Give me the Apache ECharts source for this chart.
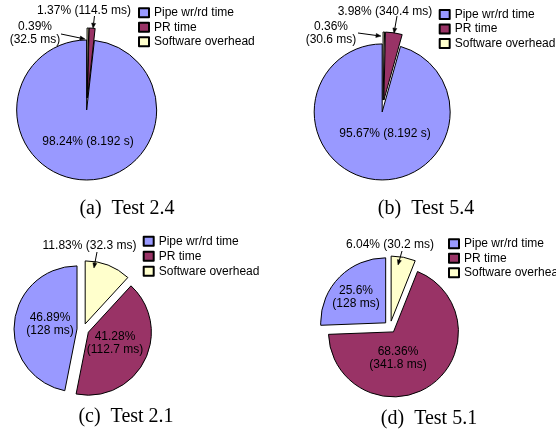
<!DOCTYPE html>
<html><head><meta charset="utf-8">
<script src="https://cdn.jsdelivr.net/npm/echarts@6/dist/echarts.min.js"></script>
<style>html,body{margin:0;padding:0;background:#fff}#c{width:556px;height:443px}</style>
</head><body><div id="c"></div>
<script>
// ---- data ----
const categories = ['Pipe wr/rd time', 'PR time', 'Software overhead'];
const colors = ['#9999ff', '#993366', '#ffffcc'];
const test24 = [8192, 114.5, 32.5];   // ms
const test54 = [8192, 340.4, 30.6];   // ms
const test21 = [128, 112.7, 32.3];    // ms
const test51 = [128, 341.8, 30.2];    // ms
const captions = ['(a)  Test 2.4', '(b)  Test 5.4', '(c)  Test 2.1', '(d)  Test 5.1'];

// ---- layout (positions only) ----
const OFFSET = 6;
const panels = [
  { values: test24, center: [87, 104], radius: 70, legend: [138, 6.8, 2.5], caption: [127, 209],
    labels: [
      { xy: [88, 142], wrap: false },
      { xy: [84, 11], wrap: false, from: [94.5, 16], tipA: 4.6, tipR: 1.0 },
      { xy: [35, 33.5], wrap: true, from: [61, 34], tipA: -2.0, tipR: 0.843 }
    ] },
  { values: test54, center: [383, 106], radius: 68, legend: [438.7, 8.5, 2.5], caption: [426, 209],
    labels: [
      { xy: [385, 134], wrap: false },
      { xy: [385, 12], wrap: false, from: [397, 16], tipA: 8.6, tipR: 0.995 },
      { xy: [331, 33.5], wrap: true, from: [358, 33], tipA: -1.85, tipR: 0.94 }
    ] },
  { values: test21, center: [83, 329.5], radius: 63, legend: [142.7, 235.2, 3], caption: [126, 417],
    labels: [
      { xy: [50, 324], wrap: true },
      { xy: [115, 343], wrap: true },
      { xy: [89.5, 246], wrap: false, from: [97, 252], tipA: 8.9, tipR: 0.898 }
    ] },
  { values: test51, center: [390, 327], radius: 65, legend: [448, 237.8, 2.5], caption: [429, 419],
    labels: [
      { xy: [356, 297], wrap: true },
      { xy: [398, 358], wrap: true },
      { xy: [390, 245], wrap: false, from: [402, 251], tipA: 7.0, tipR: 0.87 }
    ] }
];

function fmtVal(v) { return v >= 1000 ? (v / 1000).toFixed(3) + ' s' : v + ' ms'; }
function pct(v, arr) { const s = arr.reduce((a, b) => a + b, 0); return +(v / s * 100).toFixed(2); }

const FONT = 'Liberation Sans';
const series = panels.map((p) => ({
  type: 'pie',
  center: p.center,
  radius: p.radius,
  startAngle: 90,
  clockwise: false,
  selectedMode: 'multiple',
  selectedOffset: OFFSET,
  avoidLabelOverlap: false,
  animation: false,
  emphasis: { disabled: true },
  label: { show: false },
  labelLine: { show: false },
  itemStyle: { borderColor: '#000', borderWidth: 1 },
  select: { itemStyle: { borderColor: '#000', borderWidth: 1 } },
  data: p.values.map((v, i) => ({
    value: v,
    name: categories[i],
    selected: true,
    itemStyle: { color: colors[i] }
  }))
}));

const legends = panels.map(p => ({
  orient: 'vertical',
  left: p.legend[0], top: p.legend[1], itemGap: p.legend[2],
  padding: 0, itemWidth: 10, itemHeight: 9, icon: 'rect',
  selectedMode: false,
  textStyle: { fontFamily: FONT, fontSize: 12, color: '#000' },
  data: categories
}));

const chart = echarts.init(document.getElementById('c'), null, { renderer: 'canvas' });
chart.setOption({
  animation: false,
  backgroundColor: '#fff',
  legend: legends,
  series: series
});

// slice origin (centre shifted by the selected offset) from the library's own pie layout
function sliceOrigin(si, j) {
  let lay = null;
  try { lay = chart.getModel().getSeriesByIndex(si).getData().getItemLayout(j); } catch (e) { lay = null; }
  if (lay && lay.cx != null) {
    const mid = (lay.startAngle + lay.endAngle) / 2;
    return { x: lay.cx + Math.cos(mid) * OFFSET, y: lay.cy + Math.sin(mid) * OFFSET, r: lay.r };
  }
  const p = panels[si], vals = p.values, s = vals.reduce((a, b) => a + b, 0);
  let acc = 0; for (let k = 0; k < j; k++) acc += vals[k];
  const a0 = -Math.PI / 2 - acc / s * 2 * Math.PI, a1 = a0 - vals[j] / s * 2 * Math.PI;
  const mid = (a0 + a1) / 2;
  return { x: p.center[0] + Math.cos(mid) * OFFSET, y: p.center[1] + Math.sin(mid) * OFFSET, r: p.radius };
}

const Z = 50;
const graphics = [];
captions.forEach((t, i) => graphics.push({
  type: 'text', x: panels[i].caption[0], y: panels[i].caption[1], silent: true, z: Z,
  style: { text: t, font: '20px "Liberation Serif"', fill: '#000', align: 'center', verticalAlign: 'middle' }
}));
panels.forEach((p, si) => {
  p.labels.forEach((L, j) => {
    const v = p.values[j];
    const txt = pct(v, p.values) + '%' + (L.wrap ? '\n' : ' ') + '(' + fmtVal(v) + ')';
    graphics.push({
      type: 'text', x: L.xy[0], y: L.xy[1], silent: true, z: Z,
      style: { text: txt, font: '12px "' + FONT + '"', fill: '#000', align: 'center', verticalAlign: 'middle', lineHeight: 13 }
    });
    if (L.from) {
      const o = sliceOrigin(si, j);
      const a = L.tipA * Math.PI / 180;
      const tip = [o.x + Math.sin(a) * o.r * L.tipR, o.y - Math.cos(a) * o.r * L.tipR];
      const dx = tip[0] - L.from[0], dy = tip[1] - L.from[1];
      const len = Math.sqrt(dx * dx + dy * dy) || 1;
      const ux = dx / len, uy = dy / len, HL = 5, HW = 2;
      const bx = tip[0] - ux * HL, by = tip[1] - uy * HL;
      graphics.push({
        type: 'polyline', silent: true, z: Z,
        shape: { points: [L.from, [bx, by]] },
        style: { stroke: '#000', lineWidth: 1, fill: null }
      });
      graphics.push({
        type: 'polygon', silent: true, z: Z,
        shape: { points: [tip, [bx - uy * HW, by + ux * HW], [bx + uy * HW, by - ux * HW]] },
        style: { fill: '#000', stroke: '#000', lineWidth: 0.5 }
      });
    }
  });
});
chart.setOption({ graphic: graphics });
</script></body></html>
